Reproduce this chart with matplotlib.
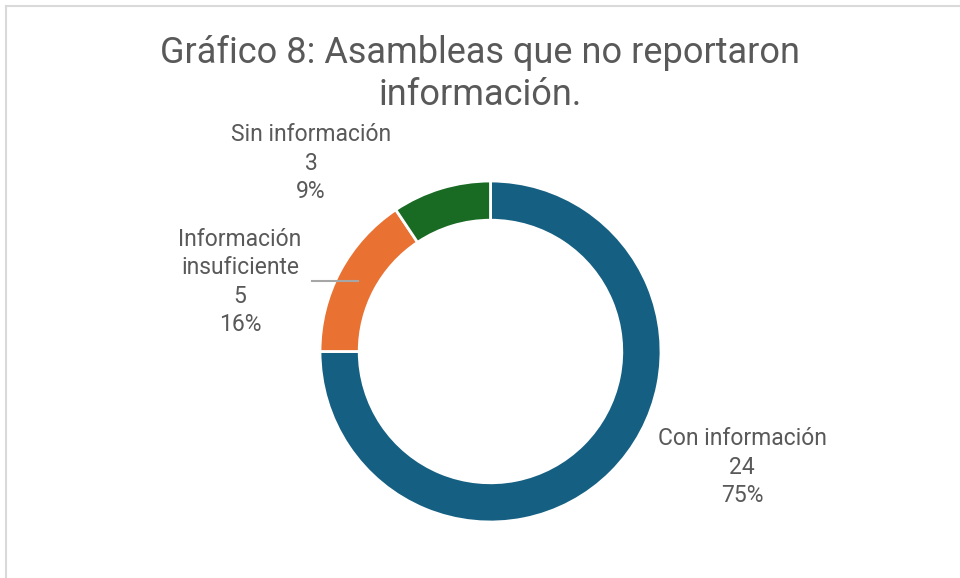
import matplotlib.pyplot as plt
from matplotlib.lines import Line2D

categorias = ["Con información", "Información\ninsuficiente", "Sin información"]
valores = [24, 5, 3]
colores = ["#156082", "#E97132", "#196B24"]

total = sum(valores)
porcentajes = [round(v / total * 100) for v in valores]

plt.rcParams['font.family'] = ['Roboto', 'DejaVu Sans']
gris = "#595959"

fig = plt.figure(figsize=(9.6, 5.78), dpi=100)

# marco del gráfico (cortado a la derecha y abajo)
fig.add_artist(Line2D([6 / 960, 6 / 960], [0, 1 - 6 / 578], transform=fig.transFigure, color="#d9d9d9", lw=1.5))
fig.add_artist(Line2D([6 / 960, 1], [1 - 6 / 578, 1 - 6 / 578], transform=fig.transFigure, color="#d9d9d9", lw=1.5))

ax = fig.add_axes([320 / 960, 56 / 578, 341 / 960, 341 / 578])
ax.pie(valores, colors=colores, startangle=90, counterclock=False, radius=1,
       wedgeprops=dict(width=0.23, edgecolor="white", linewidth=2))
ax.set_xlim(-1, 1)
ax.set_ylim(-1, 1)
ax.axis("off")

fig.text(0.5, 1 - 74 / 578, "Gráfico 8: Asambleas que no reportaron\ninformación.",
         ha="center", va="center", fontsize=26, color=gris, linespacing=1.2)

# etiquetas
posiciones = [(742, 467), (240, 282), (311, 163)]
for cat, v, p, (x, y) in zip(categorias, valores, porcentajes, posiciones):
    fig.text(x / 960, 1 - y / 578, f"{cat}\n{v}\n{p}%", ha="center", va="center",
             fontsize=16.5, color=gris, linespacing=1.3)

# línea guía
fig.add_artist(Line2D([312 / 960, 358 / 960], [1 - 281 / 578, 1 - 281 / 578],
                      transform=fig.transFigure, color="#a6a6a6", lw=1.5))

fig.savefig("out.png", dpi=100)
